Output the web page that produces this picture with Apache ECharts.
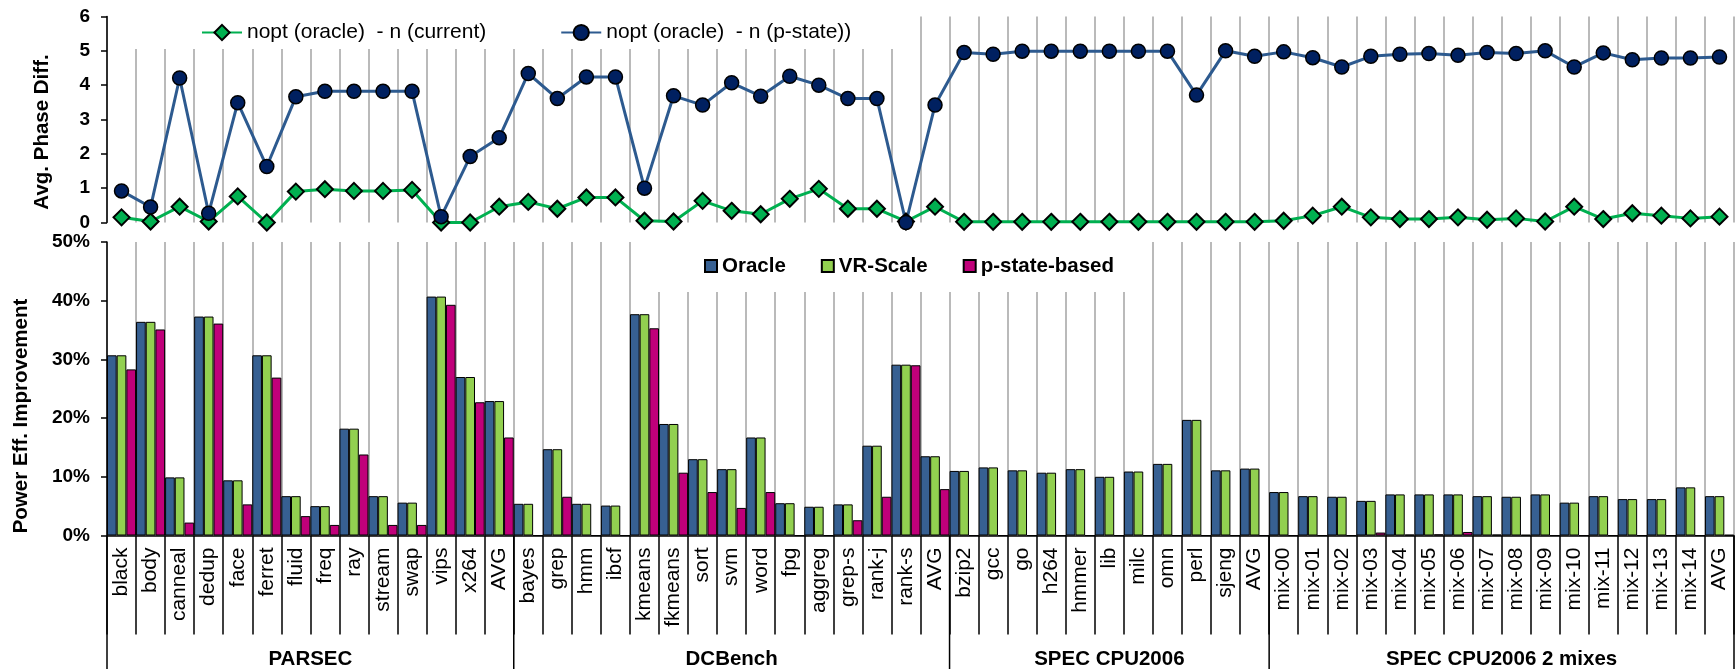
<!DOCTYPE html>
<html>
<head>
<meta charset="utf-8">
<script src="https://cdn.jsdelivr.net/npm/echarts@6/dist/echarts.min.js"></script>
<style>
  html, body { margin: 0; padding: 0; background: #fff; }
  #chart { width: 1735px; height: 669px; }
</style>
</head>
<body>
<div id="chart"></div>
<script>
// Benchmarks, grouped by suite
const categories = [
  'black','body','canneal','dedup','face','ferret','fluid','freq','ray','stream','swap','vips','x264','AVG',
  'bayes','grep','hmm','ibcf','kmeans','fkmeans','sort','svm','word','fpg','aggreg','grep-s','rank-j','rank-s','AVG',
  'bzip2','gcc','go','h264','hmmer','lib','milc','omn','perl','sjeng','AVG',
  'mix-00','mix-01','mix-02','mix-03','mix-04','mix-05','mix-06','mix-07','mix-08','mix-09','mix-10','mix-11','mix-12','mix-13','mix-14','AVG'
];
const groupNames = ['PARSEC', 'DCBench', 'SPEC CPU2006', 'SPEC CPU2006 2 mixes'];
const groupSizes = [14, 15, 11, 16];

// Average phase difference (upper panel)
const phaseCurrent = [
  0.15, 0.03, 0.46, 0.03, 0.76, 0.00, 0.90, 0.97, 0.92, 0.92, 0.95, 0.00, 0.00, 0.46,
  0.60, 0.40, 0.73, 0.73, 0.05, 0.03, 0.63, 0.34, 0.24, 0.69, 0.98, 0.40, 0.40, 0.03, 0.46,
  0.02, 0.02, 0.02, 0.02, 0.02, 0.02, 0.02, 0.02, 0.02, 0.02, 0.02,
  0.05, 0.20, 0.46, 0.15, 0.10, 0.10, 0.15, 0.08, 0.12, 0.03, 0.46, 0.10, 0.27, 0.20, 0.12, 0.17
];
const phasePstate = [
  0.92, 0.45, 4.21, 0.27, 3.49, 1.63, 3.66, 3.82, 3.82, 3.82, 3.82, 0.17, 1.92, 2.47,
  4.34, 3.61, 4.24, 4.24, 1.00, 3.69, 3.42, 4.07, 3.68, 4.26, 4.00, 3.61, 3.61, 0.00, 3.42,
  4.95, 4.90, 4.99, 4.99, 4.99, 4.99, 4.99, 4.99, 3.71, 5.00, 4.84,
  4.97, 4.80, 4.53, 4.84, 4.90, 4.92, 4.87, 4.95, 4.92, 5.00, 4.53, 4.94, 4.74, 4.79, 4.79, 4.82
];

// Power efficiency improvement in percent (lower panel)
const effOracle = [
  30.7, 36.4, 9.9, 37.3, 9.4, 30.7, 6.7, 5.0, 18.2, 6.7, 5.6, 40.7, 27.0, 22.9,
  5.4, 14.7, 5.4, 5.1, 37.7, 19.0, 13.0, 11.3, 16.7, 5.5, 4.9, 5.3, 15.3, 29.1, 13.5,
  11.0, 11.6, 11.1, 10.7, 11.3, 10.0, 10.9, 12.2, 19.7, 11.1, 11.4,
  7.4, 6.7, 6.6, 5.9, 7.0, 7.0, 7.0, 6.7, 6.6, 7.0, 5.6, 6.7, 6.2, 6.2, 8.2, 6.7
];
const effVRScale = [
  30.7, 36.4, 9.9, 37.3, 9.4, 30.7, 6.7, 5.0, 18.2, 6.7, 5.6, 40.7, 27.0, 22.9,
  5.4, 14.7, 5.4, 5.1, 37.7, 19.0, 13.0, 11.3, 16.7, 5.5, 4.9, 5.3, 15.3, 29.1, 13.5,
  11.0, 11.6, 11.1, 10.7, 11.3, 10.0, 10.9, 12.2, 19.7, 11.1, 11.4,
  7.4, 6.7, 6.6, 5.9, 7.0, 7.0, 7.0, 6.7, 6.6, 7.0, 5.6, 6.7, 6.2, 6.2, 8.2, 6.7
];
const effPstate = [
  28.3, 35.1, 2.2, 36.1, 5.3, 26.9, 3.3, 1.8, 13.8, 1.8, 1.8, 39.3, 22.7, 16.7,
  0, 6.6, 0, 0, 35.3, 10.7, 7.4, 4.7, 7.4, 0, 0, 2.6, 6.6, 29.0, 7.9,
  0, 0, 0, 0, 0, 0, 0, 0, 0, 0, 0,
  0, 0, 0, 0.5, 0.15, 0.2, 0.6, 0.15, 0.1, 0, 0, 0, 0, 0, 0, 0.1
];

const FONT = '"Liberation Sans", Arial, Helvetica, sans-serif';
const GRID_COLOR = '#a3a3a3';

const chart = echarts.init(document.getElementById('chart'), null, { renderer: 'canvas' });

const valueAxisCommon = {
  type: 'value',
  min: 0,
  splitLine: { show: false },
  axisLine: { show: true, lineStyle: { color: '#000', width: 1.5 } },
  axisTick: { show: true, inside: false, length: 6, lineStyle: { color: '#000', width: 1.5 } },
  axisLabel: { color: '#000', fontFamily: FONT, fontWeight: 'bold', fontSize: 19, margin: 17 }
};

const option = {
  animation: false,
  backgroundColor: '#fff',
  grid: [
    { left: 107, right: 1, top: 16.5, height: 206 },
    { left: 107, right: 1, top: 242, height: 293.5 }
  ],
  xAxis: [
    {
      gridIndex: 0, type: 'category', data: categories, boundaryGap: true,
      axisLine: { show: false }, axisTick: { show: false }, axisLabel: { show: false },
      splitLine: { show: true, interval: 0, lineStyle: { color: GRID_COLOR, width: 1.5 } }
    },
    {
      gridIndex: 1, type: 'category', data: categories, boundaryGap: true,
      axisLine: { show: true, lineStyle: { color: '#000', width: 1.5 } },
      axisTick: { show: true, interval: 0, length: 99, lineStyle: { color: '#000', width: 1.5 } },
      axisLabel: { interval: 0, rotate: 90, margin: 12, color: '#000', fontFamily: FONT, fontSize: 21 },
      splitLine: { show: true, interval: 0, lineStyle: { color: GRID_COLOR, width: 1.5 } }
    }
  ],
  yAxis: [
    Object.assign({}, valueAxisCommon, { gridIndex: 0, max: 6, interval: 1 }),
    Object.assign({}, valueAxisCommon, {
      gridIndex: 1, max: 50, interval: 10,
      axisLabel: Object.assign({}, valueAxisCommon.axisLabel, { formatter: '{value}%' })
    })
  ],
  legend: [
    {
      data: ['nopt (oracle)  - n (current)', 'nopt (oracle)  - n (p-state))'],
      left: 110, top: 16,
      padding: [4, 60, 4, 91],
      backgroundColor: '#fff',
      itemWidth: 40, itemHeight: 19, itemGap: 74,
      textStyle: { color: '#000', fontFamily: FONT, fontSize: 21, lineHeight: 25 }
    },
    {
      data: ['Oracle', 'VR-Scale', 'p-state-based'],
      left: 640, top: 242,
      padding: [12, 28, 14, 64],
      backgroundColor: '#fff',
      icon: 'rect',
      itemWidth: 12, itemHeight: 12, itemGap: 35,
      textStyle: { color: '#000', fontFamily: FONT, fontSize: 20.5, fontWeight: 'bold', lineHeight: 24 }
    }
  ],
  series: [
    {
      name: 'nopt (oracle)  - n (current)', type: 'line',
      xAxisIndex: 0, yAxisIndex: 0, data: phaseCurrent,
      symbol: 'diamond', symbolSize: 16,
      lineStyle: { color: '#00b050', width: 3 },
      itemStyle: { color: '#00b050', borderColor: '#000', borderWidth: 2 }
    },
    {
      name: 'nopt (oracle)  - n (p-state))', type: 'line',
      xAxisIndex: 0, yAxisIndex: 0, data: phasePstate,
      symbol: 'circle', symbolSize: 14,
      lineStyle: { color: '#2d5a8f', width: 3 },
      itemStyle: { color: '#002060', borderColor: '#000', borderWidth: 1.5 }
    },
    {
      name: 'Oracle', type: 'bar', xAxisIndex: 1, yAxisIndex: 1, data: effOracle,
      barGap: '0%', barCategoryGap: '0%',
      itemStyle: { color: '#376092', borderColor: '#000', borderWidth: 1 }
    },
    {
      name: 'VR-Scale', type: 'bar', xAxisIndex: 1, yAxisIndex: 1, data: effVRScale,
      barGap: '0%', barCategoryGap: '0%',
      itemStyle: { color: '#92d050', borderColor: '#000', borderWidth: 1 }
    },
    {
      name: 'p-state-based', type: 'bar', xAxisIndex: 1, yAxisIndex: 1, data: effPstate,
      barGap: '0%', barCategoryGap: '0%',
      itemStyle: { color: '#c0007a', borderColor: '#000', borderWidth: 1 }
    }
  ]
};

chart.setOption(option);

// Suite separators and suite names under the benchmark labels
const c0 = chart.convertToPixel({ xAxisIndex: 1 }, 0);
const c1 = chart.convertToPixel({ xAxisIndex: 1 }, 1);
const band = c1 - c0;
const yZero = chart.convertToPixel({ yAxisIndex: 1 }, 0);
const bottomY = 669;
const graphics = [];
let startIdx = 0;
const boundaryX = (idx) => chart.convertToPixel({ xAxisIndex: 1 }, Math.min(idx, categories.length - 1)) - band / 2 + (idx >= categories.length ? band : 0);
const sepXs = [boundaryX(0)];
groupSizes.forEach((n, gi) => {
  const xs = boundaryX(startIdx);
  const xe = boundaryX(startIdx + n);
  sepXs.push(xe);
  graphics.push({
    type: 'text', silent: true,
    x: (xs + xe) / 2, y: 659,
    style: {
      text: groupNames[gi], fill: '#000',
      font: 'bold 20.5px ' + FONT,
      textAlign: 'center', textVerticalAlign: 'middle',
      align: 'center', verticalAlign: 'middle'
    }
  });
  startIdx += n;
});
sepXs.forEach(x => {
  graphics.push({
    type: 'line', silent: true,
    shape: { x1: x, y1: yZero, x2: x, y2: bottomY },
    style: { stroke: '#000', lineWidth: 1.5 }
  });
});

// Axis titles
graphics.push({
  type: 'text', silent: true, x: 42, y: 132, rotation: Math.PI / 2,
  style: {
    text: 'Avg. Phase Diff.', fill: '#000', font: 'bold 20.5px ' + FONT,
    textAlign: 'center', textVerticalAlign: 'middle', align: 'center', verticalAlign: 'middle'
  }
});
graphics.push({
  type: 'text', silent: true, x: 21, y: 416, rotation: Math.PI / 2,
  style: {
    text: 'Power Eff. Improvement', fill: '#000', font: 'bold 20.5px ' + FONT,
    textAlign: 'center', textVerticalAlign: 'middle', align: 'center', verticalAlign: 'middle'
  }
});

chart.setOption({ graphic: graphics });
</script>
</body>
</html>
